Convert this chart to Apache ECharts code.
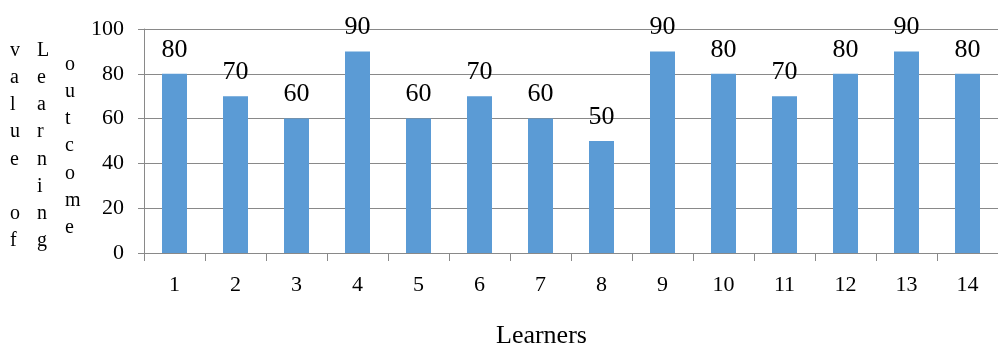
<!DOCTYPE html>
<html>
<head>
<meta charset="utf-8">
<script src="https://cdn.jsdelivr.net/npm/echarts@6/dist/echarts.min.js"></script>
<style>
  html, body { margin: 0; padding: 0; background: #fff; }
  #chart { width: 998px; height: 345px; }
</style>
</head>
<body>
<div id="chart"></div>
<script>
// Learners and the learning-outcome score each one reached
const learners = ['1', '2', '3', '4', '5', '6', '7', '8', '9', '10', '11', '12', '13', '14'];
const outcomeValues = [80, 70, 60, 90, 60, 70, 60, 50, 90, 80, 70, 80, 90, 80];
const yTicks = { min: 0, max: 100, interval: 20 };
const yTitleColumns = ['v\na\nl\nu\ne\n\no\nf', 'L\ne\na\nr\nn\ni\nn\ng', 'o\nu\nt\nc\no\nm\ne'];
const xTitle = 'Learners';

const serif = '"Liberation Serif", "Times New Roman", serif';
const axisGray = '#898989';

const chart = echarts.init(document.getElementById('chart'), null, { renderer: 'canvas' });

// stacked-letter y title: one column per word
const columnX = [16, 43, 71];
const columnTop = [37, 37, 51];

chart.setOption({
  animation: false,
  backgroundColor: '#ffffff',
  grid: { left: 144, top: 29, width: 865, height: 224, containLabel: false },
  xAxis: {
    type: 'category',
    data: learners,
    axisLine: { lineStyle: { color: axisGray, width: 1 } },
    axisTick: { show: true, length: 8, lineStyle: { color: axisGray } },
    axisLabel: { color: '#000', fontFamily: serif, fontSize: 22, margin: 21 }
  },
  yAxis: {
    type: 'value',
    min: yTicks.min,
    max: yTicks.max,
    interval: yTicks.interval,
    axisLine: { show: true, lineStyle: { color: axisGray, width: 1 } },
    axisTick: { show: true, length: 6, lineStyle: { color: axisGray } },
    splitLine: { show: true, lineStyle: { color: axisGray, width: 1 } },
    axisLabel: { color: '#000', fontFamily: serif, fontSize: 22, margin: 20 }
  },
  series: [{
    type: 'bar',
    data: outcomeValues,
    barWidth: 25,
    itemStyle: { color: '#5B9BD5' },
    label: {
      show: true,
      position: 'top',
      distance: 11,
      color: '#000',
      fontFamily: serif,
      fontSize: 26
    }
  }],
  graphic: yTitleColumns.map((txt, i) => ({
    type: 'text',
    left: columnX[i] - 6,
    top: columnTop[i],
    style: {
      text: txt,
      fill: '#000',
      font: '20px ' + serif,
      lineHeight: 27.2,
      align: 'center'
    }
  })).concat([{
    type: 'text',
    left: 496,
    top: 323,
    style: { text: xTitle, fill: '#000', font: '26px ' + serif }
  }])
});
</script>
</body>
</html>
